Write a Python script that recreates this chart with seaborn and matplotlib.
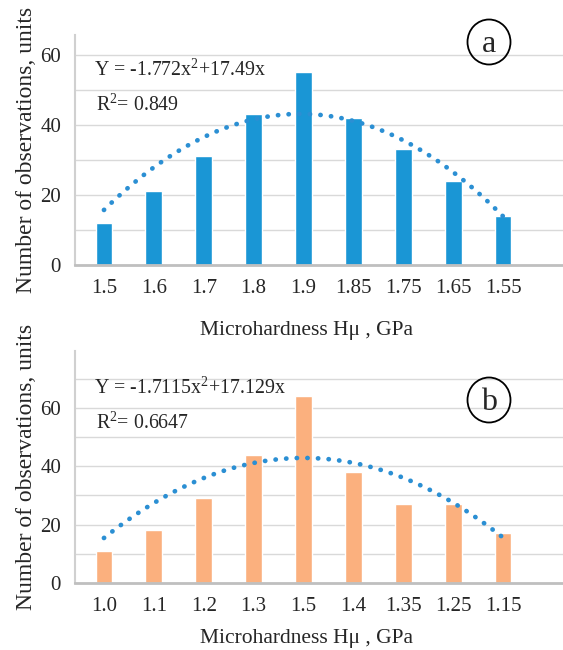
import numpy as np
import pandas as pd
import matplotlib
matplotlib.use("Agg")
import matplotlib.pyplot as plt
import seaborn as sns
from matplotlib.patches import Ellipse

sns.set_theme(style="white")
plt.rcParams['font.family'] = ['Liberation Serif', 'DejaVu Serif']

# Data
cats_a = ["1.5", "1.6", "1.7", "1.8", "1.9", "1.85", "1.75", "1.65", "1.55"]
vals_a = [12, 21, 31, 43, 55, 42, 33, 24, 14]
fit_a = (-1.772, 17.49)
cats_b = ["1.0", "1.1", "1.2", "1.3", "1.5", "1.4", "1.35", "1.25", "1.15"]
vals_b = [11, 18, 29, 44, 64, 38, 27, 27, 17]
fit_b = (-1.7115, 17.129)

eq_a = "Y = -1.772x$^{2}$+17.49x"
r2_a = "R$^{2}$= 0.849"
eq_b = "Y = -1.7115x$^{2}$+17.129x"
r2_b = "R$^{2}$= 0.6647"
xlabel = "Microhardness Hμ , GPa"
ylabel = "Number of observations, units"

plt.rcParams['mathtext.fontset'] = 'custom'
plt.rcParams['mathtext.rm'] = 'Liberation Serif'

fig = plt.figure(figsize=(5.63, 6.5), dpi=100)
W, H = 563, 650

def make_ax(top_px, bottom_px):
    return fig.add_axes([75 / W, 1 - bottom_px / H, 1 - 75 / W, (bottom_px - top_px) / H])

ax_a = make_ax(35, 265)
ax_b = make_ax(351, 583)

def draw(ax, cats, vals, fit, color, ymax, yticks, grid_max, eq, r2, letter,
         eq_y, r2_y, letter_y, xlabel_y):
    df = pd.DataFrame({"cat": cats, "val": vals})
    sns.barplot(data=df, x="cat", y="val", order=cats, color=color, width=0.335,
                saturation=1, ax=ax, zorder=3)
    idx = np.linspace(1, len(cats), 200)
    trend = fit[0] * idx ** 2 + fit[1] * idx
    ax.plot(idx - 1, trend, color="#2b8fd3", linewidth=3.4,
            linestyle=(0, (0.05, 2.2)), dash_capstyle="round", zorder=4)
    ax.set_xlim(-0.58, 9.2)
    ax.set_ylim(0, ymax)
    for g in range(10, grid_max + 1, 10):
        ax.axhline(g, color="#d9d9d9", linewidth=1, zorder=1)
    ax.set_yticks(yticks)
    ax.set_yticklabels([str(t) for t in yticks], fontsize=15)
    ax.tick_params(axis="x", labelsize=15, length=0, pad=10)
    ax.tick_params(axis="y", length=0, pad=10)
    ax.set_xlabel(xlabel, fontsize=15.5)
    ax.xaxis.set_label_coords(0.475, xlabel_y)
    ax.set_ylabel(ylabel, fontsize=17, labelpad=2)
    for s in ["top", "right"]:
        ax.spines[s].set_visible(False)
    ax.spines["left"].set_color("#d0d0d0")
    ax.spines["left"].set_linewidth(1.5)
    ax.spines["bottom"].set_color("#bfbfbf")
    ax.spines["bottom"].set_linewidth(2)
    ax.spines["bottom"].set_zorder(5)
    ax.set_facecolor("white")
    fig.text(94 / W, 1 - eq_y / H, eq, fontsize=14.3, va="center", ha="left")
    fig.text(96 / W, 1 - r2_y / H, r2, fontsize=14.3, va="center", ha="left")
    e = Ellipse((489 / W, 1 - letter_y / H), width=43 / W, height=45 / H,
                transform=fig.transFigure, fill=False, edgecolor="black", linewidth=1.3)
    fig.add_artist(e)
    fig.text(489 / W, 1 - (letter_y + 2) / H, letter, fontsize=23, ha="center", va="center")

draw(ax_a, cats_a, vals_a, fit_a, "#1a96d5", 65.7, [0, 20, 40, 60], 60,
     eq_a, r2_a, "a", 70, 105, 42, -0.245)
draw(ax_b, cats_b, vals_b, fit_b, "#fbb07e", 79.5, [0, 20, 40, 60], 70,
     eq_b, r2_b, "b", 388, 423, 400, -0.2)

fig.savefig("out.png", dpi=100, facecolor="white")
